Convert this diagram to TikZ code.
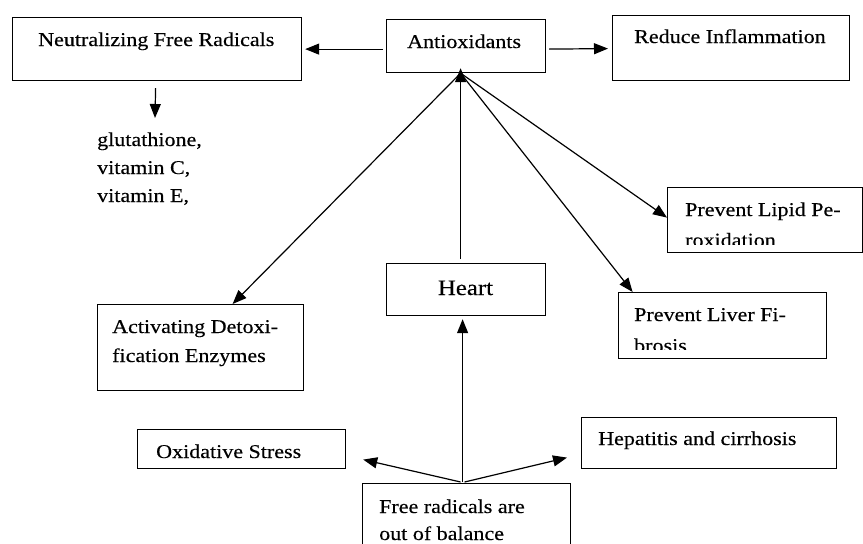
\documentclass[tikz,border=0pt]{standalone}
\usepackage{fontspec}
\setmainfont{Liberation Serif}[FakeStretch=1.13,FakeBold=0.3]
\usetikzlibrary{arrows.meta,calc}
\tikzset{
  box/.style={draw, line width=1.2pt, inner sep=0pt, anchor=north west},
  txt/.style={inner sep=0pt, anchor=base west, font=\fontsize{19.5}{28}\selectfont},
  big/.style={inner sep=0pt, anchor=base, font=\fontsize{22}{28}\selectfont},
  arr/.style={line width=1.2pt, -{Triangle[length=14pt,width=11pt]}}
}
\begin{document}
\begin{tikzpicture}[x=1pt,y=-1pt]
\useasboundingbox (0,0) rectangle (863,544);
\fill[white] (0,0) rectangle (863,544);
% boxes
\node[box, minimum width=289, minimum height=63] (nfr) at (12,17) {};
\node[box, minimum width=159, minimum height=53] (anti) at (386,19) {};
\node[box, minimum width=237, minimum height=65] (red) at (612,15) {};
\node[box, minimum width=195, minimum height=65] (lipid) at (667,187) {};
\node[box, minimum width=208, minimum height=66] (liver) at (618,292) {};
\node[box, minimum width=159, minimum height=52] (heart) at (386,263) {};
\node[box, minimum width=206, minimum height=86] (adet) at (97,304) {};
\node[box, minimum width=208, minimum height=39] (oxid) at (137,429) {};
\node[box, minimum width=255, minimum height=51] (hep) at (581,417) {};
\node[box, minimum width=208, minimum height=80] (frb) at (362,483) {};
% texts
\node[txt] (tnfr) at (38,46) {Neutralizing Free Radicals};
\node[txt] (tanti) at (407,48) {Antioxidants};
\node[txt] (tred) at (634,43) {Reduce Inflammation};
\node[txt] (tlip1) at (685,216) {Prevent Lipid Pe-};
\begin{scope}
\clip (668,188) rectangle (861,244);
\node[txt] (tlip2) at (685,246.5) {roxidation};
\end{scope}
\node[txt] (tliv1) at (634,321) {Prevent Liver Fi-};
\begin{scope}
\clip (619,293) rectangle (825,349);
\node[txt] (tliv2) at (634,352) {brosis};
\end{scope}
\node[big] (theart) at (465.5,295) {Heart};
\node[txt] (tad1) at (112,333) {Activating Detoxi-};
\node[txt] (tad2) at (112,362) {fication Enzymes};
\node[txt] (tox) at (156,458) {Oxidative Stress};
\node[txt] (thep) at (598,445) {Hepatitis and cirrhosis};
\node[txt] (tfr1) at (379,513) {Free radicals are};
\node[txt] (tfr2) at (379,540) {out of balance};
\node[txt] (tg1) at (97,146) {glutathione,};
\node[txt] (tg2) at (97,174) {vitamin C,};
\node[txt] (tg3) at (97,202) {vitamin E,};
% coordinates
\coordinate (hubtip) at ($(anti.south)+(-5.5,-5)$);
\coordinate (hub) at ($(anti.south)+(-5.5,0)$);
\coordinate (gtip) at (155,118);
% connectors
\draw[arr] ([shift={(-3,3)}]anti.west) -- ([shift={(3,0)}]nfr.east);
\draw[arr] ([shift={(3,3)}]anti.east) -- ([shift={(-4,0.5)}]red.west);
\draw[arr] ([shift={(-1.5,7)}]nfr.south) -- (gtip);
\draw[arr] ([shift={(-5.5,-4)}]heart.north) -- (hubtip);
\draw[arr] (hub) -- ([shift={(32,0)}]adet.north);
\draw[arr] (hub) -- ([shift={(0,-2.5)}]lipid.west);
\draw[arr] (hub) -- ([shift={(-90,0)}]liver.north);
\draw[arr] ([shift={(-4,-1)}]frb.north) -- ([shift={(-3.5,3)}]heart.south);
\draw[arr] ([shift={(-6,-1)}]frb.north) -- ([shift={(17,10.5)}]oxid.east);
\draw[arr] ([shift={(-2,-1)}]frb.north) -- ([shift={(-14,14.5)}]hep.west);
\end{tikzpicture}
\end{document}
